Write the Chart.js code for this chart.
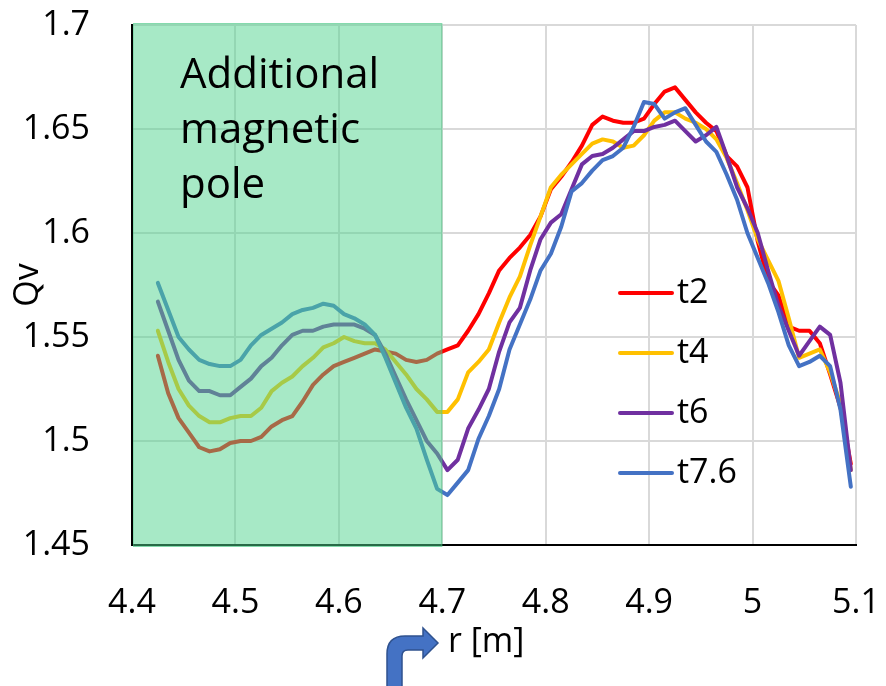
<!DOCTYPE html>
<html>
<head>
<meta charset="utf-8">
<script src="https://cdn.jsdelivr.net/npm/chart.js@4.4.1/dist/chart.umd.min.js"></script>
<style>
    html, body { margin: 0; padding: 0; background: #fff; }
</style>
</head>
<body>
<canvas id="qvChart" width="886" height="686"></canvas>
<script>
// radius positions [m]
const rVals = [4.425, 4.435, 4.445, 4.455, 4.465, 4.475, 4.485, 4.495, 4.505, 4.515,
    4.525, 4.535, 4.545, 4.555, 4.565, 4.575, 4.585, 4.595, 4.605, 4.615,
    4.625, 4.635, 4.645, 4.655, 4.665, 4.675, 4.685, 4.695, 4.705, 4.715,
    4.725, 4.735, 4.745, 4.755, 4.765, 4.775, 4.785, 4.795, 4.805, 4.815,
    4.825, 4.835, 4.845, 4.855, 4.865, 4.875, 4.885, 4.895, 4.905, 4.915,
    4.925, 4.935, 4.945, 4.955, 4.965, 4.975, 4.985, 4.995, 5.005, 5.015,
    5.025, 5.035, 5.045, 5.055, 5.065, 5.075, 5.085, 5.095];

// Qv for each time step
const qvT2 = [1.541, 1.523, 1.511, 1.504, 1.497, 1.495, 1.496, 1.499, 1.500, 1.500,
    1.502, 1.507, 1.510, 1.512, 1.519, 1.527, 1.532, 1.536, 1.538, 1.540,
    1.542, 1.544, 1.543, 1.542, 1.539, 1.538, 1.539, 1.542, 1.544, 1.546,
    1.553, 1.561, 1.571, 1.582, 1.588, 1.593, 1.599, 1.608, 1.621, 1.627,
    1.634, 1.642, 1.652, 1.656, 1.654, 1.653, 1.653, 1.655, 1.662, 1.668,
    1.670, 1.664, 1.658, 1.653, 1.649, 1.637, 1.632, 1.622, 1.596, 1.577,
    1.570, 1.555, 1.553, 1.553, 1.547, 1.532, 1.516, 1.489];
const qvT4 = [1.553, 1.538, 1.525, 1.517, 1.512, 1.509, 1.509, 1.511, 1.512, 1.512,
    1.516, 1.524, 1.528, 1.531, 1.536, 1.540, 1.545, 1.547, 1.550, 1.548,
    1.547, 1.547, 1.544, 1.538, 1.532, 1.525, 1.520, 1.514, 1.514, 1.520,
    1.533, 1.538, 1.544, 1.557, 1.569, 1.579, 1.594, 1.608, 1.622, 1.628,
    1.633, 1.638, 1.643, 1.645, 1.644, 1.641, 1.642, 1.647, 1.654, 1.658,
    1.658, 1.655, 1.653, 1.650, 1.645, 1.636, 1.624, 1.611, 1.597, 1.587,
    1.577, 1.559, 1.540, 1.542, 1.544, 1.533, 1.518, 1.486];
const qvT6 = [1.567, 1.553, 1.539, 1.529, 1.524, 1.524, 1.522, 1.522, 1.526, 1.530,
    1.536, 1.540, 1.546, 1.551, 1.553, 1.553, 1.555, 1.556, 1.556, 1.556,
    1.554, 1.551, 1.542, 1.531, 1.520, 1.510, 1.500, 1.494, 1.486, 1.491,
    1.506, 1.515, 1.525, 1.543, 1.557, 1.564, 1.582, 1.597, 1.605, 1.609,
    1.621, 1.633, 1.637, 1.638, 1.641, 1.645, 1.649, 1.649, 1.651, 1.652,
    1.654, 1.649, 1.644, 1.647, 1.651, 1.637, 1.622, 1.612, 1.600, 1.582,
    1.565, 1.553, 1.541, 1.548, 1.555, 1.551, 1.528, 1.486];
const qvT76 = [1.576, 1.563, 1.550, 1.544, 1.539, 1.537, 1.536, 1.536, 1.539, 1.546,
    1.551, 1.554, 1.557, 1.561, 1.563, 1.564, 1.566, 1.565, 1.561, 1.559,
    1.556, 1.551, 1.540, 1.528, 1.516, 1.506, 1.491, 1.477, 1.474, 1.480,
    1.486, 1.501, 1.512, 1.525, 1.544, 1.556, 1.568, 1.582, 1.590, 1.603,
    1.620, 1.624, 1.630, 1.635, 1.637, 1.641, 1.651, 1.663, 1.662, 1.655,
    1.658, 1.660, 1.652, 1.644, 1.639, 1.628, 1.616, 1.600, 1.588, 1.576,
    1.562, 1.546, 1.536, 1.538, 1.541, 1.536, 1.515, 1.478];

const seriesNames = ['t2', 't4', 't6', 't7.6'];
const seriesColors = ['#FF0000', '#FFC000', '#7030A0', '#4472C4'];

// shaded region of the additional pole
const poleRange = [4.4, 4.7];
const poleText = ['Additional', 'magnetic', 'pole'];

const FONT = "'Open Sans', sans-serif";

const toPoints = vals => rVals.map((r, i) => ({ x: r, y: vals[i] }));

// keep the plot box fixed: no extra room for label overflow
const fixAxis = (w, h) => scale => {
    if (w) scale.width = w;
    if (h) scale.height = h;
    scale.paddingTop = 0;
    scale.paddingBottom = 0;
    scale.paddingLeft = 0;
    scale.paddingRight = 0;
};

// green translucent box over the lines, plus its label
const poleBox = {
    id: 'poleBox',
    afterDatasetsDraw(chart) {
        const ctx = chart.ctx;
        const xs = chart.scales.x;
        const area = chart.chartArea;
        const x0 = xs.getPixelForValue(poleRange[0]) + 1;
        const x1 = xs.getPixelForValue(poleRange[1]);
        ctx.save();
        ctx.fillStyle = 'rgba(79, 212, 141, 0.5)';
        ctx.fillRect(x0, area.top - 2, x1 - x0, area.bottom - area.top + 4);
        ctx.strokeStyle = 'rgba(70, 190, 125, 0.35)';
        ctx.lineWidth = 1;
        ctx.strokeRect(x0 + 0.5, area.top - 1.5, x1 - x0 - 1, area.bottom - area.top + 3);
        ctx.fillStyle = '#000';
        ctx.font = '42px ' + FONT;
        ctx.textAlign = 'left';
        ctx.textBaseline = 'alphabetic';
        poleText.forEach((line, i) => ctx.fillText(line, 180, 88 + i * 55));
        ctx.restore();
    }
};

// legend inside the plot + x-axis title with its arrow
const extras = {
    id: 'extras',
    afterDraw(chart) {
        const ctx = chart.ctx;
        ctx.save();
        chart.data.datasets.forEach((ds, i) => {
            const y = 293 + i * 60;
            ctx.strokeStyle = ds.borderColor;
            ctx.lineWidth = 4;
            ctx.lineCap = 'round';
            ctx.beginPath();
            ctx.moveTo(620, y);
            ctx.lineTo(672, y);
            ctx.stroke();
            ctx.fillStyle = '#000';
            ctx.font = '34px ' + FONT;
            ctx.textBaseline = 'middle';
            ctx.textAlign = 'left';
            ctx.fillText(ds.label, 677, y);
        });

        // axis title
        ctx.fillStyle = '#000';
        ctx.font = '34px ' + FONT;
        ctx.textBaseline = 'middle';
        ctx.fillText('r [m]', 448, 642);

        // bent arrow pointing at the title
        ctx.beginPath();
        ctx.moveTo(387, 690);
        ctx.lineTo(387, 654);
        ctx.quadraticCurveTo(387, 636, 405, 636);
        ctx.lineTo(423, 636);
        ctx.lineTo(423, 628);
        ctx.lineTo(438, 643);
        ctx.lineTo(423, 658);
        ctx.lineTo(423, 650);
        ctx.lineTo(408, 650);
        ctx.quadraticCurveTo(402, 650, 402, 656);
        ctx.lineTo(402, 690);
        ctx.closePath();
        ctx.fillStyle = '#4472C4';
        ctx.fill();
        ctx.strokeStyle = '#2F528F';
        ctx.lineWidth = 1.5;
        ctx.stroke();
        ctx.restore();
    }
};

const datasets = [qvT2, qvT4, qvT6, qvT76].map((vals, i) => ({
    label: seriesNames[i],
    data: toPoints(vals),
    borderColor: seriesColors[i],
    backgroundColor: seriesColors[i],
    borderWidth: 4,
    pointRadius: 0,
    tension: 0,
    borderJoinStyle: 'round',
    borderCapStyle: 'round',
    order: 4 - i
}));

new Chart(document.getElementById('qvChart').getContext('2d'), {
    type: 'line',
    data: { datasets: datasets },
    options: {
        responsive: false,
        animation: false,
        layout: { padding: { left: 0, right: 30, top: 25, bottom: 0 } },
        plugins: {
            legend: { display: false },
            tooltip: { enabled: false }
        },
        scales: {
            x: {
                type: 'linear',
                min: 4.4,
                max: 5.1,
                afterFit: fixAxis(0, 141),
                grid: { color: '#D9D9D9', lineWidth: 2, drawTicks: false },
                border: { color: '#000', width: 2 },
                ticks: {
                    stepSize: 0.1,
                    autoSkip: false,
                    maxRotation: 0,
                    padding: 38,
                    color: '#000',
                    font: { family: FONT, size: 34 },
                    callback: v => String(+v.toFixed(1))
                }
            },
            y: {
                min: 1.45,
                max: 1.7,
                afterFit: fixAxis(132, 0),
                grid: { color: '#D9D9D9', lineWidth: 2, drawTicks: false },
                border: { color: '#000', width: 2 },
                ticks: {
                    stepSize: 0.05,
                    padding: 42,
                    color: '#000',
                    font: { family: FONT, size: 34 },
                    callback: v => String(+v.toFixed(2))
                },
                title: {
                    display: true,
                    text: 'Qv',
                    color: '#000',
                    font: { family: FONT, size: 34 },
                    padding: { top: 8, bottom: 0 }
                }
            }
        }
    },
    plugins: [poleBox, extras]
});
</script>
</body>
</html>
